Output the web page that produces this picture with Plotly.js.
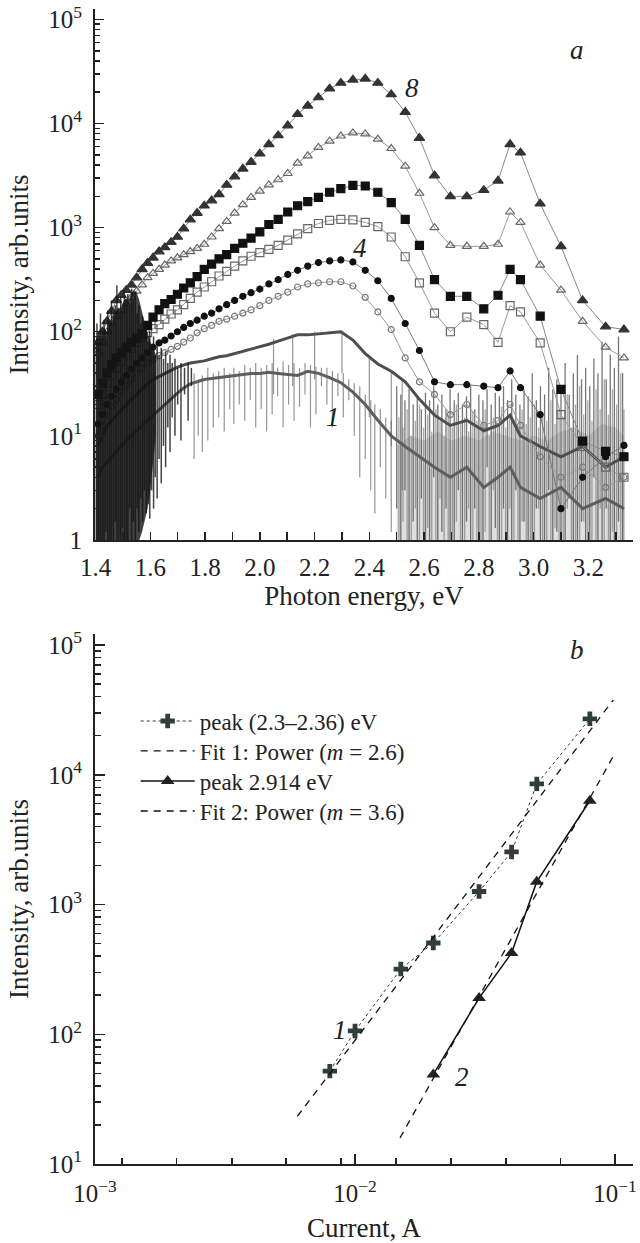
<!DOCTYPE html>
<html><head><meta charset="utf-8">
<script src="https://cdn.plot.ly/plotly-3.0.1.min.js"></script>
<style>html,body{margin:0;padding:0;background:#fff}#chart{width:640px;height:1243px}</style>
</head><body><div id="chart"></div>
<script>
// ---------- panel a : spectra ----------
const energy = [1.409,1.425,1.442,1.459,1.476,1.494,1.512,1.531,1.550,1.570,1.590,1.610,1.632,1.653,1.676,1.699,1.722,1.746,1.771,1.797,1.824,1.851,1.879,1.908,1.938,1.968,2.000,2.033,2.067,2.102,2.138,2.175,2.214,2.255,2.296,2.340,2.385,2.431,2.480,2.531,2.583,2.638,2.696,2.756,2.818,2.870,2.914,2.952,3.024,3.100,3.179,3.263,3.330];
const curve1 = [4,5,5.6,6.3,7.1,7.9,8.9,10,11.2,12.6,14.1,15.8,17.8,20,22.9,25.7,28.8,31.6,33.1,34.7,35.5,36.3,37.2,38,38.9,39.8,39.8,40.7,39.8,38.9,38,41.7,39.8,36.3,32.4,26.3,20,14.1,10,7.9,6.3,5,4,5,3.2,4,5,3.2,2.5,3.2,2,2.5,2];
const curve2 = [7.9,10,12.6,14.1,15.8,17.8,20,22.4,25.1,28.2,31.6,34.7,37.2,39.8,42.7,45.7,47.9,50.1,51.3,52.5,55,57.5,58.9,61.7,64.6,67.6,70.8,75.9,81.3,87.1,93.3,93.3,95.5,97.7,100,83.2,61.7,49,41.7,33.1,22.4,15.8,12.6,14.1,11.2,12.6,15.8,10,7.9,6.3,7.9,5,6.3];
const curve3 = [10,12.6,15.8,19,22.4,26.3,30.2,34.7,39.8,44.7,50.1,53.7,58.9,63.1,67.6,72.4,79.4,87.1,97.7,107,115,126,132,141,151,162,178,200,219,240,269,288,295,302,302,275,214,155,105,56,33,25,16,20,12.6,14,20,12.6,6.3,4,5,3.2,4];
const curve4 = [13,16,20,24,28,33,38,44,50,56,63,71,78,83,91,100,110,120,129,141,151,166,182,200,219,237,257,288,316,355,389,427,462,479,490,468,389,309,209,120,66,33,31,31,30,29,42,29,16,2.0,4,6.3,8.1];
const curve5 = [20,25,32,38,45,52,60,69,79,89,98,107,117,132,148,162,182,209,240,269,302,343,380,427,479,531,575,617,676,759,871,977,1096,1175,1202,1189,1122,1023,813,525,295,151,100,138,117,79,178,155,78,16,7.9,5,4];
const curve6 = [25,32,40,48,56,63,71,79,87,95,115,138,162,186,204,229,263,295,339,398,447,501,550,631,708,794,912,1072,1202,1413,1622,1778,1950,2188,2371,2541,2512,2188,1738,1202,676,316,219,219,166,224,398,316,141,28,8.9,7.1,6.3];
const curve7 = [63,79,100,120,141,158,186,214,245,282,331,363,398,437,479,513,550,589,631,692,813,977,1148,1380,1660,1950,2239,2570,2884,3311,4169,4898,5888,6761,7586,8128,7943,7079,5754,3890,2138,1000,676,661,661,692,1413,1122,437,251,126,71,56];
const curve8 = [79,100,126,158,200,224,251,282,331,398,457,513,589,646,724,813,977,1194,1380,1622,1820,2089,2570,3090,3673,4266,5129,6310,7674,9550,12300,14790,17780,21630,24550,26300,26900,24550,19050,12880,7244,3162,1995,1995,2291,2818,6310,5248,1698,661,200,112,105];

// noise (dense dark mass at low energy, spikes, gray band at high energy)
const massE = [1.400,1.410,1.420,1.430,1.440,1.450,1.460,1.470,1.480,1.490,1.500,1.510,1.520,1.530,1.540,1.550,1.560,1.570,1.580,1.590,1.600,1.610,1.620];
const massTop = [80,100,90,110,100,130,120,150,170,160,190,210,200,230,250,240,200,150,120,100,80,70,60];
const massBottom = [1,1,1,1,1,1,1,1,1,1,1,1,1,1,1,1,1,1.2,1.5,2,3,5,10];

const lowSpikeE = [1.405,1.412,1.418,1.425,1.431,1.438,1.445,1.452,1.458,1.465,1.472,1.478,1.485,1.492,1.498,1.505,1.512,1.518,1.525,1.532,1.538,1.545,1.552,1.558,1.565,1.572,1.578,1.585,1.592,1.598,1.605,1.612,1.618,1.625,1.632,1.640,1.648,1.656,1.664,1.672,1.680,1.690,1.700,1.712,1.725,1.738,1.750];
const lowSpikeTop = [120,80,150,100,130,90,160,120,200,150,180,280,170,220,160,250,200,230,180,260,200,240,150,180,120,140,90,110,80,100,70,90,60,80,60,70,55,65,50,60,50,55,45,50,45,50,45];
const lowSpikeBottom = [1,1,1,1,1,1.2,1,1,1,1,1.5,1,1,1,1.3,1,1,1,2,1,1.5,1,2,1.2,2.5,1.5,3,1.8,2.2,1.6,3,2,4,2.5,6,3.5,8,5,12,7,15,10,20,9,25,14,30];

const midSpikeE = [1.760,1.775,1.790,1.810,1.830,1.850,1.870,1.890,1.905,1.925,1.945,1.965,1.985,2.005,2.025,2.045,2.065,2.085,2.105,2.125,2.145,2.165,2.185,2.205,2.225,2.245,2.265,2.285,2.305,2.325,2.345,2.365,2.385,2.405,2.420,2.440,2.460,2.480,2.050,2.120,2.200,2.300,2.400,2.480,2.520];
const midSpikeTop = [40,35,38,45,40,42,45,40,45,42,48,45,50,45,48,50,45,52,48,50,45,50,48,46,45,45,42,40,40,35,32,30,25,22,20,18,15,14,85,95,100,100,60,40,35];
const midSpikeBottom = [6,10,7,9,12,15,11,18,13,20,14,22,12,18,11,16,24,12,20,14,19,25,12,16,30,20,12,24,15,22,10,4,6,3,1.8,5,2.5,1.2,25,30,35,40,15,8,3];

const highSpikeE = [2.500,2.515,2.530,2.545,2.560,2.575,2.590,2.605,2.620,2.635,2.650,2.665,2.680,2.695,2.710,2.725,2.740,2.755,2.770,2.785,2.800,2.815,2.830,2.845,2.860,2.875,2.890,2.905,2.920,2.935,2.950,2.965,2.980,2.995,3.010,3.025,3.040,3.055,3.070,3.085,3.100,3.115,3.130,3.145,3.160,3.175,3.190,3.205,3.220,3.235,3.250,3.265,3.280,3.295,3.310,3.325];
const highSpikeTop = [30,25,22,28,20,24,18,26,22,30,20,25,18,28,22,26,20,24,30,18,25,22,28,20,26,24,30,22,35,25,20,28,24,40,22,30,25,45,28,35,30,50,25,40,60,35,45,30,55,40,80,35,60,45,90,40];
const highSpikeBottom = [2,1,3,1,1.5,1,2.5,1,1,4,1,1.2,2,1,1,3,1,1.5,1,2,1,1,5,1,1.3,1,2,1,1,3,1,1.5,1,1,2,1,1,3,1,1.2,1,1,2.5,1,1,1.5,1,1,4,1,1,2,1,1,1.5,1];
const highSpike2E = [2.508,2.523,2.538,2.553,2.568,2.583,2.598,2.613,2.628,2.643,2.658,2.673,2.688,2.703,2.718,2.733,2.748,2.763,2.778,2.793,2.808,2.823,2.838,2.853,2.868,2.883,2.898,2.913,2.928,2.943,2.958,2.973,2.988,3.003,3.018,3.033,3.048,3.063,3.078,3.093,3.108,3.123,3.138,3.153,3.168,3.183,3.198,3.213,3.228,3.243,3.258,3.273,3.288,3.303,3.318,3.330];
const highSpike2Top = [15,12,18,10,14,20,12,16,11,18,14,10,16,12,20,13,15,11,17,14,12,18,10,15,13,19,12,16,14,11,18,13,15,20,12,16,14,22,13,18,15,25,12,20,30,16,22,14,28,18,35,16,28,20,40,18];
const highSpike2Bottom = [1,1.5,1,1,2,1,1,1.3,1,1,2.5,1,1,1,1.5,1,1,2,1,1,1,1.2,1,3,1,1,1,2,1,1,1.5,1,1,1,2,1,1,1,1.3,1,1,2,1,1,1,1.5,1,1,1,2,1,1,1.2,1,1,1];

const bandE = [2.50,2.55,2.60,2.65,2.70,2.75,2.80,2.85,2.90,2.95,3.00,3.05,3.10,3.15,3.20,3.25,3.30,3.33];
const bandTop = [8,10,9,11,9,10,9,11,10,9,10,9,11,12,10,13,12,10];
const bandBottom = [1,1,1,1,1,1,1,1,1,1,1,1,1,1,1,1,1,1];

// ---------- panel b : peak intensity vs current ----------
const current1 = [0.008,0.010,0.015,0.020,0.030,0.040,0.050,0.080];
const peak1 = [52,106,318,505,1260,2540,8500,27000];
const current2 = [0.020,0.030,0.040,0.050,0.080];
const peak2 = [49,190,423,1500,6300];
const fit1Current = [0.0060,0.0985];
const fit1Value = [23.3,37800];
const fit2Current = [0.0149,0.100];
const fit2Value = [15.9,14700];

// ---------- tick labels ----------
const topXTickVals = [1.4,1.6,1.8,2.0,2.2,2.4,2.6,2.8,3.0,3.2];
const topXTickText = ['1.4','1.6','1.8','2.0','2.2','2.4','2.6','2.8','3.0','3.2'];
const topXMinor = [1.5,1.7,1.9,2.1,2.3,2.5,2.7,2.9,3.1,3.3];
const topYTickVals = [1,10,100,1000,10000,100000];
const topYTickText = ['1','10<sup>1</sup>','10<sup>2</sup>','10<sup>3</sup>','10<sup>4</sup>','10<sup>5</sup>'];
const botYTickVals = [10,100,1000,10000,100000];
const botYTickText = ['10<sup>1</sup>','10<sup>2</sup>','10<sup>3</sup>','10<sup>4</sup>','10<sup>5</sup>'];
const botXTickVals = [0.001,0.01,0.1];
const botXTickText = ['10<sup>\u22123</sup>','10<sup>\u22122</sup>','10<sup>\u22121</sup>'];
const botXMinor = [0.00127,0.00206,0.00336,0.00543,0.00883,0.0144,0.0234,0.0380,0.0618];

function logMinor(d0, d1){ const v=[]; for(let d=d0; d<d1; d++){ for(let k=2;k<=9;k++) v.push(k*Math.pow(10,d)); } return v; }

function spikes(E, top, bottom){
  const x=[], y=[];
  for(let i=0;i<E.length;i++){ x.push(E[i],E[i],null); y.push(top[i],bottom[i],null); }
  return {x, y};
}
function polygon(E, top, bottom){
  return {x: E.concat(E.slice().reverse()), y: top.concat(bottom.slice().reverse())};
}

const FONT = 'Liberation Serif, Times New Roman, serif';
const traces = [];
const band = polygon(bandE, bandTop, bandBottom);
traces.push({x: band.x, y: band.y, xaxis:'x', yaxis:'y', mode:'lines', fill:'toself', fillcolor:'rgba(110,110,110,0.22)', line:{width:0}, showlegend:false, hoverinfo:'skip'});
const hs = spikes(highSpikeE, highSpikeTop, highSpikeBottom);
traces.push({x: hs.x, y: hs.y, xaxis:'x', yaxis:'y', mode:'lines', line:{color:'rgba(60,60,60,0.7)', width:1.3}, showlegend:false, hoverinfo:'skip'});
const hs2 = spikes(highSpike2E, highSpike2Top, highSpike2Bottom);
traces.push({x: hs2.x, y: hs2.y, xaxis:'x', yaxis:'y', mode:'lines', line:{color:'rgba(110,110,110,0.6)', width:1.3}, showlegend:false, hoverinfo:'skip'});
traces.push({x: energy, y: curve1, xaxis:'x', yaxis:'y', mode:'lines', line:{color:'#5e5e5e', width:3}, showlegend:false});
traces.push({x: energy, y: curve2, xaxis:'x', yaxis:'y', mode:'lines', line:{color:'#4e4e4e', width:3}, showlegend:false});
const ms = spikes(midSpikeE, midSpikeTop, midSpikeBottom);
traces.push({x: ms.x, y: ms.y, xaxis:'x', yaxis:'y', mode:'lines', line:{color:'rgba(90,90,90,0.65)', width:1.2}, showlegend:false, hoverinfo:'skip'});

const styled = [
  [curve3, 'circle-open', 6, '#777', '#999'],
  [curve4, 'circle', 6, '#111', '#777'],
  [curve5, 'square-open', 8, '#666', '#999'],
  [curve6, 'square', 8, '#111', '#888'],
  [curve7, 'triangle-up-open', 8, '#666', '#999'],
  [curve8, 'triangle-up', 9, '#333', '#888']
];
styled.forEach(s => {
  traces.push({x: energy, y: s[0], xaxis:'x', yaxis:'y', mode:'lines+markers',
    line:{color:s[4], width:1}, marker:{symbol:s[1], size:s[2], color:s[3], line:{color:s[3], width:1.2}}, showlegend:false});
});

const mass = polygon(massE, massTop, massBottom);
traces.push({x: mass.x, y: mass.y, xaxis:'x', yaxis:'y', mode:'lines', fill:'toself', fillcolor:'rgba(25,25,25,0.82)', line:{width:0}, showlegend:false, hoverinfo:'skip'});
const ls = spikes(lowSpikeE, lowSpikeTop, lowSpikeBottom);
traces.push({x: ls.x, y: ls.y, xaxis:'x', yaxis:'y', mode:'lines', line:{color:'rgba(20,20,20,0.8)', width:1.5}, showlegend:false, hoverinfo:'skip'});

// panel b (each legend row is its own legend so the rows sit where the reference has them)
traces.push({x: current1, y: peak1, xaxis:'x2', yaxis:'y2', mode:'lines+markers', name:'peak (2.3\u20132.36) eV', legend:'legend',
  line:{color:'#333', width:1, dash:'dot'}, marker:{symbol:'cross', size:12, color:'#2f3d3d', line:{width:0}}});
traces.push({x: fit1Current, y: fit1Value, xaxis:'x2', yaxis:'y2', mode:'lines', name:'Fit 1: Power (<i>m</i> = 2.6)', legend:'legend2',
  line:{color:'#111', width:1.3, dash:'7px,6px'}});
traces.push({x: current2, y: peak2, xaxis:'x2', yaxis:'y2', mode:'lines+markers', name:'peak 2.914 eV', legend:'legend3',
  line:{color:'#111', width:1.5}, marker:{symbol:'triangle-up', size:12, color:'#222'}});
traces.push({x: fit2Current, y: fit2Value, xaxis:'x2', yaxis:'y2', mode:'lines', name:'Fit 2: Power (<i>m</i> = 3.6)', legend:'legend4',
  line:{color:'#111', width:1.3, dash:'7px,6px'}});

const axisCommon = {showline:true, linecolor:'#222', linewidth:2, showgrid:false, zeroline:false,
  ticks:'inside', tickcolor:'#222', tickwidth:1.5, tickfont:{family:FONT, size:25, color:'#222'}};
const ann = (t, x, y) => ({text:'<i>'+t+'</i>', x, y, xref:'paper', yref:'paper', showarrow:false,
  xanchor:'center', yanchor:'middle', font:{family:FONT, size:27, color:'#222'}});
const leg = (y) => ({x:0.0756, y:y, xanchor:'left', yanchor:'middle', font:{family:FONT, size:23, color:'#222'},
  itemwidth:54, bgcolor:'rgba(0,0,0,0)', borderwidth:0});

const layout = {
  width:640, height:1243,
  margin:{l:95, r:7, t:9, b:79},
  paper_bgcolor:'#fff', plot_bgcolor:'#fff',
  font:{family:FONT, color:'#222'},
  showlegend:true,
  legend: leg(0.3835), legend2: leg(0.3576), legend3: leg(0.3316), legend4: leg(0.3056),
  xaxis: Object.assign({}, axisCommon, {domain:[0,1], anchor:'y', range:[1.398,3.363],
    tickmode:'array', tickvals:topXTickVals, ticktext:topXTickText, ticklen:8, ticklabelstandoff:4,
    minor:{tickmode:'array', tickvals:topXMinor, ticks:'inside', ticklen:8, tickwidth:1.5, tickcolor:'#222', showgrid:false},
    title:{text:'Photon energy, eV', font:{family:FONT, size:27, color:'#222'}, standoff:4}}),
  yaxis: Object.assign({}, axisCommon, {domain:[0.5403,1], anchor:'x', type:'log', range:[0,5.1],
    tickmode:'array', tickvals:topYTickVals, ticktext:topYTickText, ticklen:9, ticklabelstandoff:6,
    minor:{tickmode:'array', tickvals:logMinor(0,5), ticks:'inside', ticklen:5, tickwidth:1.5, tickcolor:'#222', showgrid:false},
    title:{text:'Intensity, arb.units', font:{family:FONT, size:27, color:'#222'}, standoff:12}}),
  xaxis2: Object.assign({}, axisCommon, {domain:[0,1], anchor:'y2', type:'log', range:[-3,-0.931],
    tickmode:'array', tickvals:botXTickVals, ticktext:botXTickText, ticklen:10, ticklabelstandoff:6,
    minor:{tickmode:'array', tickvals:botXMinor, ticks:'inside', ticklen:6, tickwidth:1.5, tickcolor:'#222', showgrid:false},
    title:{text:'Current, A', font:{family:FONT, size:27, color:'#222'}, standoff:12}}),
  yaxis2: Object.assign({}, axisCommon, {domain:[0,0.4589], anchor:'x2', type:'log', range:[1,5.085],
    tickmode:'array', tickvals:botYTickVals, ticktext:botYTickText, ticklen:10, ticklabelstandoff:6,
    minor:{tickmode:'array', tickvals:logMinor(1,5), ticks:'inside', ticklen:6, tickwidth:1.5, tickcolor:'#222', showgrid:false},
    title:{text:'Intensity, arb.units', font:{family:FONT, size:27, color:'#222'}, standoff:12}}),
  annotations:[
    ann('a', 0.896, 0.9645), ann('8', 0.589, 0.9316), ann('4', 0.4926, 0.793), ann('1', 0.4424, 0.6468),
    ann('b', 0.896, 0.445), ann('1', 0.4554, 0.116), ann('2', 0.682, 0.0753)
  ]
};

Plotly.newPlot('chart', traces, layout, {staticPlot:true, displayModeBar:false});
</script>
</body></html>
